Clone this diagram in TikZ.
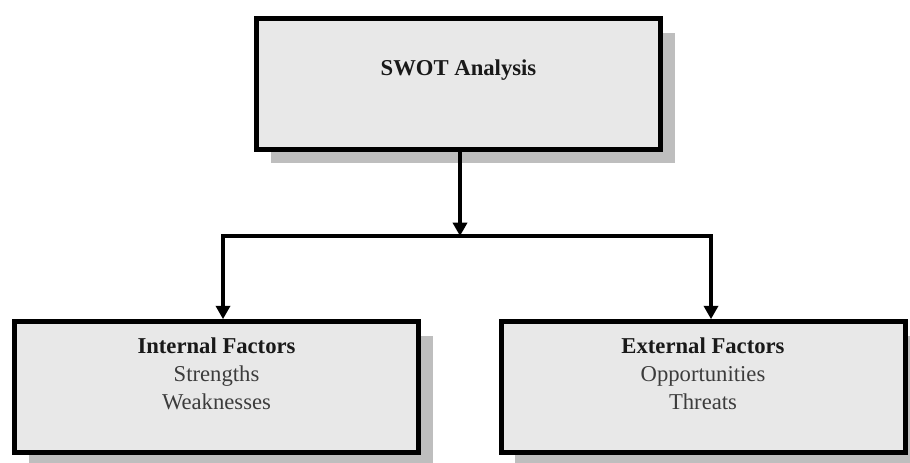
\documentclass[tikz,border=0pt]{standalone}
\usepackage{fontspec}
\setmainfont{Liberation Serif}
\usepackage{xcolor}
\usetikzlibrary{arrows.meta,positioning,shadows}

\definecolor{boxfill}{RGB}{232,232,232}
\definecolor{shadowgray}{RGB}{190,190,190}
\definecolor{subtext}{RGB}{60,60,60}

\begin{document}
\begin{tikzpicture}[x=0.75pt,y=-0.75pt,
        factorbox/.style={draw=black, line width=3.75pt, fill=boxfill, minimum width=303pt, minimum height=98pt,
                drop shadow={shadow xshift=10.5pt, shadow yshift=-10.5pt, fill=shadowgray, opacity=1}},
        headtext/.style={inner sep=0pt, align=center, font=\fontsize{17}{21}\selectfont\bfseries, text=black!90},
        link/.style={line width=3pt, -{Triangle[length=10pt,width=10.5pt]}}]
        \useasboundingbox (0,0) rectangle (910,462);
        \node [factorbox] (swot) at (458.5,84) {};
        \node [factorbox] (internal) at (216.5,387) {};
        \node [factorbox] (external) at (703,387) {};
        \coordinate (split) at (460,236);
        \coordinate (leftcorner) at (223,236);
        \coordinate (rightcorner) at (711,236);
        \draw [link] (swot.south -| split) -- (split) ;
        \draw [link, line join=miter] (leftcorner) -- (rightcorner) -- (rightcorner |- external.north) ;
        \draw [link, line join=miter] (rightcorner) -- (leftcorner) -- (leftcorner |- internal.north) ;
        \node [headtext, below=32.5pt of swot.north] (swottext) {SWOT Analysis};
        \node [headtext, below=14pt of internal.north] (inttext) {Internal Factors\\\mdseries\color{subtext}Strengths\\\mdseries\color{subtext}Weaknesses};
        \node [headtext, below=14pt of external.north] (exttext) {External Factors\\\mdseries\color{subtext}Opportunities\\\mdseries\color{subtext}Threats};
\end{tikzpicture}
\end{document}
